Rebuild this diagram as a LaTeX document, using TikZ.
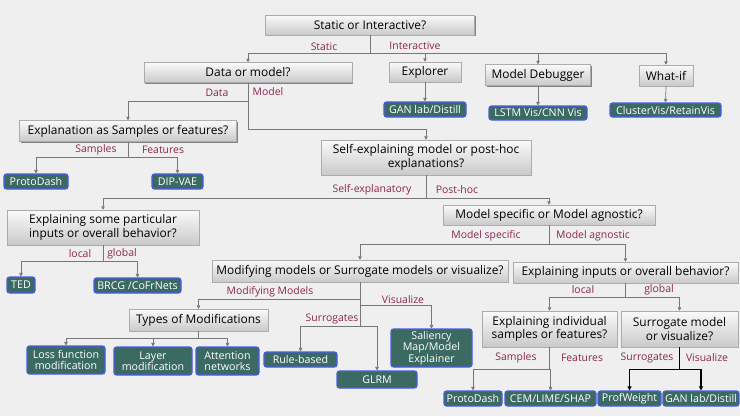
\documentclass[tikz,border=0pt]{standalone}
\usepackage{fontspec}
\setmainfont{Open Sans}
\usetikzlibrary{positioning,shapes,arrows.meta,shadows}

\definecolor{bgcol}{HTML}{EFEFEF}
\definecolor{tealbox}{HTML}{3B6A63}
\definecolor{bluerim}{HTML}{4B5BE6}
\definecolor{branchtxt}{HTML}{8B2551}
\definecolor{wire}{HTML}{777777}

\begin{document}
\begin{tikzpicture}[x=0.03cm, y=-0.03cm,
    qbox/.style 2 args={draw=gray!65, top color=gray!4, bottom color=gray!42,
        drop shadow={shadow xshift=1.2pt, shadow yshift=-1.2pt, fill=black, opacity=0.45},
        minimum width=#1*0.03cm, minimum height=#2*0.03cm, inner sep=0pt,
        align=center, font=\fontsize{10.2}{11.6}\selectfont},
    leaf/.style 2 args={draw=bluerim, fill=tealbox, line width=0.9pt, rounded corners=2pt,
        minimum width=#1*0.03cm, minimum height=#2*0.03cm, inner sep=0pt,
        text=white, align=center, font=\fontsize{9.1}{9.8}\selectfont},
    lbl/.style={text=branchtxt, font=\fontsize{8.9}{9.5}\selectfont, inner sep=0pt},
    link/.style={draw=wire, line width=0.6pt, -{Triangle[length=3pt,width=3pt]}},
    boldlink/.style={draw=black, line width=0.9pt, -{Triangle[length=3.5pt,width=3.5pt]}}]

    % Canvas
    \fill[bgcol] (0,0) rectangle (740,416);
    \useasboundingbox (0,0) rectangle (740,416);

    % Question boxes
    \node[qbox={209}{20}] (static) at (370,25) {Static or Interactive?};
    \node[qbox={208}{20}] (data) at (248,72.5) {Data or model?};
    \node[qbox={72}{20}] (explorer) at (425,72) {Explorer};
    \node[qbox={105}{21}] (debugger) at (538,75) {Model Debugger};
    \node[qbox={54}{21}] (whatif) at (666,75.5) {What-if};
    \node[qbox={217}{21}] (explan) at (128,131) {Explanation as Samples or features?};
    \node[qbox={210}{35}] (selfexp) at (426,157.5) {Self-explaining model or post-hoc\\explanations?};
    \node[qbox={192}{35}] (particular) at (103,227.5) {Explaining some particular\\inputs or overall behavior?};
    \node[qbox={212}{20}] (specific) at (549,215) {Model specific or Model agnostic?};
    \node[qbox={296}{22}] (modify) at (360,271) {Modifying models or Surrogate models or visualize?};
    \node[qbox={225}{21}] (inputs) at (625.5,272.5) {Explaining inputs or overall behavior?};
    \node[qbox={139}{22}] (types) at (198.5,320) {Types of Modifications};
    \node[qbox={135}{36}] (individual) at (549.5,329) {Explaining individual\\samples or features?};
    \node[qbox={117}{36}] (surrmodel) at (679.5,329) {Surrogate model\\or visualize?};

    % Method boxes
    \node[leaf={82}{15}] (gantop) at (425,109.5) {GAN lab/Distill};
    \node[leaf={98}{14}] (lstm) at (538,113) {LSTM Vis/CNN Vis};
    \node[leaf={111}{14}] (cluster) at (665.5,110) {ClusterVis/RetainVis};
    \node[leaf={64}{15}] (protoleft) at (36,181.5) {ProtoDash};
    \node[leaf={51}{15}] (dipvae) at (177.5,181.5) {DIP-VAE};
    \node[leaf={28}{16}] (ted) at (21,285) {TED};
    \node[leaf={87}{15}] (brcg) at (137.5,285.5) {BRCG /CoFrNets};
    \node[leaf={78}{28}] (loss) at (66,360) {Loss function\\modification};
    \node[leaf={78}{28}] (layer) at (153,361) {Layer\\modification};
    \node[leaf={63}{28}] (attention) at (227.5,361) {Attention\\networks};
    \node[leaf={73}{15}] (rule) at (300.5,359.5) {Rule-based};
    \node[leaf={80}{17}] (glrm) at (377,379.5) {GLRM};
    \node[leaf={81}{38}] (saliency) at (431.5,348) {Saliency\\Map/Model\\Explainer};
    \node[leaf={58}{15}] (protoright) at (473,398.5) {ProtoDash};
    \node[leaf={91}{15}] (cem) at (550.5,398.5) {CEM/LIME/SHAP};
    \node[leaf={63}{15}] (prof) at (629.5,398.5) {ProfWeight};
    \node[leaf={76}{15}] (ganbot) at (701,398.5) {GAN lab/Distill};

    % Connectors
    \foreach \child in {data,explorer,debugger,whatif}
        \draw[link] (static.south) -- ++(0,18) -| (\child.north);
    \draw[link] (explorer.south) -- (gantop.north);
    \draw[link] (debugger.south) -- (lstm.north);
    \draw[link] (whatif.south) -- (cluster.north);
    \draw[link] (data.south) -- ++(0,19) -| (explan.north);
    \draw[link] (data.south) -- ++(0,47) -| (selfexp.north);
    \foreach \child in {protoleft,dipvae}
        \draw[link] (explan.south) -- ++(0,15.5) -| (\child.north);
    \foreach \child in {particular,specific}
        \draw[link] (selfexp.south) -- ++(0,23) -| (\child.north);
    \foreach \child in {ted,brcg}
        \draw[link] (particular.south) -- ++(0,16) -| (\child.north);
    \foreach \child in {modify,inputs}
        \draw[link] (specific.south) -- ++(0,19) -| (\child.north);
    \draw[link] (modify.south) -- ++(0,17) -| (types.north);
    \draw[link] (modify.south) -- ++(0,23) -| (saliency.north);
    \foreach \child in {rule,glrm}
        \draw[link] (modify.south) -- ++(0,44) -| (\child.north);
    \foreach \child in {loss,layer,attention}
        \draw[link] (types.south) -- ++(0,7) -| (\child.north);
    \foreach \child in {individual,surrmodel}
        \draw[link] (inputs.south) -- ++(0,14) -| (\child.north);
    \foreach \child in {protoright,cem}
        \draw[link] (individual.south) -- ++(0,22) -| (\child.north);
    \foreach \child in {prof,ganbot}
        \draw[boldlink] (surrmodel.south) -- ++(0,22) -| (\child.north);

    % Branch labels
    \node[lbl] (lstatic) at (324,47) {Static};
    \node[lbl] (linteractive) at (415,46) {Interactive};
    \node[lbl] (ldata) at (217,93) {Data};
    \node[lbl] (lmodel) at (268,92) {Model};
    \node[lbl] (lsamples) at (96,150) {Samples};
    \node[lbl] (lfeatures) at (163,150) {Features};
    \node[lbl] (lselfexp) at (372,190) {Self-explanatory};
    \node[lbl] (lposthoc) at (457,190) {Post-hoc};
    \node[lbl] (llocal) at (80,254) {local};
    \node[lbl] (lglobal) at (122,254) {global};
    \node[lbl] (lspecific) at (486,236) {Model specific};
    \node[lbl] (lagnostic) at (593,236) {Model agnostic};
    \node[lbl] (lmodifying) at (270,292) {Modifying Models};
    \node[lbl] (lvisual) at (403,300) {Visualize};
    \node[lbl] (lsurr) at (332,319) {Surrogates};
    \node[lbl] (llocalb) at (583,290) {local};
    \node[lbl] (lglobalb) at (659,290) {global};
    \node[lbl] (lsamplesb) at (516,358) {Samples};
    \node[lbl] (lfeaturesb) at (582,358) {Features};
    \node[lbl] (lsurrb) at (647,358) {Surrogates};
    \node[lbl] (lvisualb) at (707,358) {Visualize};
\end{tikzpicture}
\end{document}
